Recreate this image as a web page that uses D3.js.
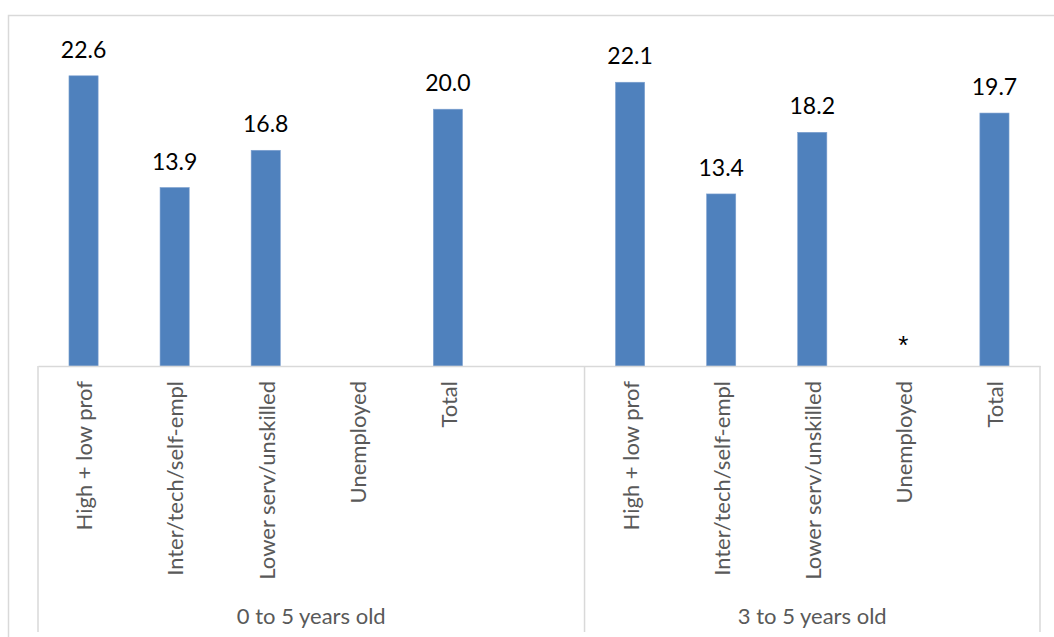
<!DOCTYPE html>
<html>
<head>
<meta charset="utf-8">
<script src="https://cdn.jsdelivr.net/npm/d3@7"></script>
<style>
  html, body { margin: 0; padding: 0; background: #fff; }
  svg { display: block; }
</style>
</head>
<body>
<svg id="chart" width="1054" height="637"></svg>
<script>
// ---- data ----
const groups = ["0 to 5 years old", "3 to 5 years old"];
const groupSizes = [6, 5];
const categories = [
  "High + low prof", "Inter/tech/self-empl", "Lower serv/unskilled", "Unemployed", "Total", "",
  "High + low prof", "Inter/tech/self-empl", "Lower serv/unskilled", "Unemployed", "Total"
];
const values = [22.6, 13.9, 16.8, null, 20.0, null, 22.1, 13.4, 18.2, 0, 19.7];
const valueLabels = ["22.6", "13.9", "16.8", "", "20.0", "", "22.1", "13.4", "18.2", "*", "19.7"];
const yDomain = [0, 25];

// ---- layout ----
const W = 1054, H = 637;
const left = 38, right = 1040, baseY = 366, topY = 45;
const font = "Lato, 'Open Sans', sans-serif";
const grid = "#d9d9d9";

const svg = d3.select("#chart");

// outer frame (top and left visible)
svg.append("rect")
  .attr("x", 8.5).attr("y", 15.5)
  .attr("width", W + 20).attr("height", H + 20)
  .attr("fill", "none").attr("stroke", grid).attr("stroke-width", 1.5);

const idx = categories.map((d, i) => i);
const x = d3.scaleBand().domain(idx).range([left, right])
  .paddingInner(0.68).paddingOuter(0.34);
const y = d3.scaleLinear().domain(yDomain).range([baseY, topY]);

// bars
svg.append("g").selectAll("rect")
  .data(idx.filter(i => values[i] !== null && values[i] > 0))
  .join("rect")
  .attr("x", i => x(i))
  .attr("width", x.bandwidth())
  .attr("y", i => y(values[i]))
  .attr("height", i => y(0) - y(values[i]))
  .attr("fill", "#4f81bd")
  .attr("stroke", "#7ea1cf").attr("stroke-width", 0.6);

// value labels
svg.append("g").selectAll("text")
  .data(idx.filter(i => valueLabels[i] !== ""))
  .join("text")
  .attr("x", i => x(i) + x.bandwidth() / 2)
  .attr("y", i => y(values[i] || 0) - (valueLabels[i] === "*" ? 12 : 18))
  .attr("text-anchor", "middle")
  .attr("font-family", i => valueLabels[i] === "*" ? "'Liberation Sans', sans-serif" : font)
  .attr("font-size", i => valueLabels[i] === "*" ? 26 : 23)
  .attr("fill", "#000")
  .text(i => valueLabels[i]);

// x axis
const axis = svg.append("g")
  .attr("transform", `translate(0,${baseY})`)
  .call(d3.axisBottom(x).tickSize(0).tickSizeOuter(0).tickFormat(i => categories[i]));
axis.select(".domain").attr("stroke", grid).attr("stroke-width", 1.5);
axis.selectAll(".tick text")
  .attr("font-family", font)
  .attr("font-size", 22)
  .attr("fill", "#595959")
  .attr("text-anchor", "end")
  .attr("transform", "rotate(-90)")
  .attr("x", -15)
  .attr("y", 0)
  .attr("dy", "0.4em");

// group separators
let bounds = [left];
let acc = 0;
groupSizes.forEach(n => { acc += n; bounds.push(acc < categories.length ? x(acc) - x.step() * x.paddingInner() / 2 : right); });
svg.append("g").selectAll("line")
  .data(bounds)
  .join("line")
  .attr("x1", d => d).attr("x2", d => d)
  .attr("y1", baseY).attr("y2", 632)
  .attr("stroke", grid).attr("stroke-width", 1.5);

// group labels
svg.append("g").selectAll("text")
  .data(groups)
  .join("text")
  .attr("x", (d, i) => (bounds[i] + bounds[i + 1]) / 2)
  .attr("y", 624)
  .attr("text-anchor", "middle")
  .attr("font-family", font)
  .attr("font-size", 22)
  .attr("fill", "#595959")
  .text(d => d);
</script>
</body>
</html>
